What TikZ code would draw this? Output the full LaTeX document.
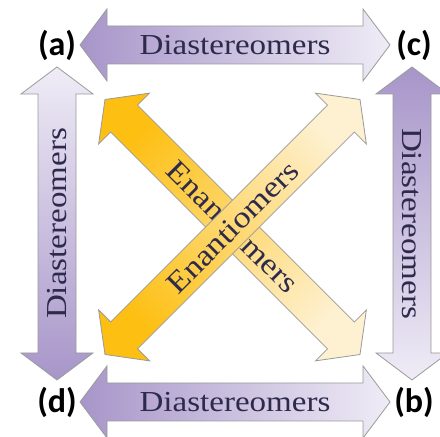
\documentclass[tikz,border=0pt]{standalone}
\usepackage{fontspec}
\usetikzlibrary{calc}
\newfontfamily\arrowFont[FakeStretch=1.14]{Liberation Serif}
\newfontfamily\tagFont{Carlito}
\definecolor{lilacDark}{HTML}{A795C9}
\definecolor{lilacLight}{HTML}{EFECF6}
\definecolor{amberDark}{HTML}{FDBF12}
\definecolor{amberLight}{HTML}{FEF1D2}
\definecolor{edgeGray}{HTML}{9A9A9A}
\definecolor{wordText}{HTML}{2E2A4C}

% double-headed block arrow from tip #1 to tip #2, fill style #3, label #4 turned by #5
\newcommand\dblArrow[5]{%
  \coordinate (pA) at ($(#1)!27pt!(#2)$);
  \coordinate (pB) at ($(#2)!27pt!(#1)$);
  \path[#3] (#1) -- ($(pA)!36pt!90:(#1)$) -- ($(pA)!19pt!90:(#1)$)
    -- ($(pB)!19pt!-90:(#2)$) -- ($(pB)!36pt!-90:(#2)$) -- (#2)
    -- ($(pB)!36pt!90:(#2)$) -- ($(pB)!19pt!90:(#2)$)
    -- ($(pA)!19pt!-90:(#1)$) -- ($(pA)!36pt!-90:(#1)$) -- cycle;
  \path (#1) -- node[word, rotate=#5] {#4} (#2);
}

\begin{document}
\begin{tikzpicture}[
  x=1pt, y=1pt,
  lilac/.style ={draw=edgeGray, line width=0.8pt, top color=lilacDark, bottom color=lilacLight},
  amber/.style ={draw=edgeGray, line width=0.8pt, top color=amberDark, bottom color=amberLight},
  word/.style  ={text=wordText, inner sep=0pt, font=\arrowFont\fontsize{29}{29}\selectfont},
  tag/.style   ={font=\tagFont\bfseries\fontsize{34}{34}\selectfont, inner sep=0pt},
]
\path[use as bounding box, clip] (0,0) rectangle (440,437);

% ----- Corner labels -----
\node[tag] (a) at (57,392) {(a)};
\node[tag] (c) at (414,392) {(c)};
\node[tag] (d) at (57,35) {(d)};
\node[tag] (b) at (414,35) {(b)};

% ----- Arrow tips -----
\coordinate (acL) at (80,392);   \coordinate (acR) at (390,392);
\coordinate (dbL) at (80,35);    \coordinate (dbR) at (390,35);
\coordinate (adT) at (57,370);   \coordinate (adB) at (57,57);
\coordinate (cbT) at (412,370);  \coordinate (cbB) at (412,57);
\coordinate (abT) at (105,337.5); \coordinate (abB) at (360,82.5);
\coordinate (dcB) at (105,82.5);  \coordinate (dcT) at (360,337.5);

% ----- Diastereomer arrows -----
\dblArrow{acL}{acR}{lilac, shading angle=90}{Diastereomers}{0}
\dblArrow{dbL}{dbR}{lilac, shading angle=90}{Diastereomers}{0}
\dblArrow{adB}{adT}{lilac, shading angle=180}{Diastereomers}{90}
\dblArrow{cbT}{cbB}{lilac, shading angle=0}{Diastereomers}{-90}

% ----- Enantiomer arrows (crossing) -----
\dblArrow{abT}{abB}{amber, shading angle=45}{\fontsize{30}{30}\selectfont Enantiomers}{-45}
\dblArrow{dcB}{dcT}{amber, shading angle=135}{\fontsize{30}{30}\selectfont Enantiomers}{45}

\end{tikzpicture}
\end{document}
